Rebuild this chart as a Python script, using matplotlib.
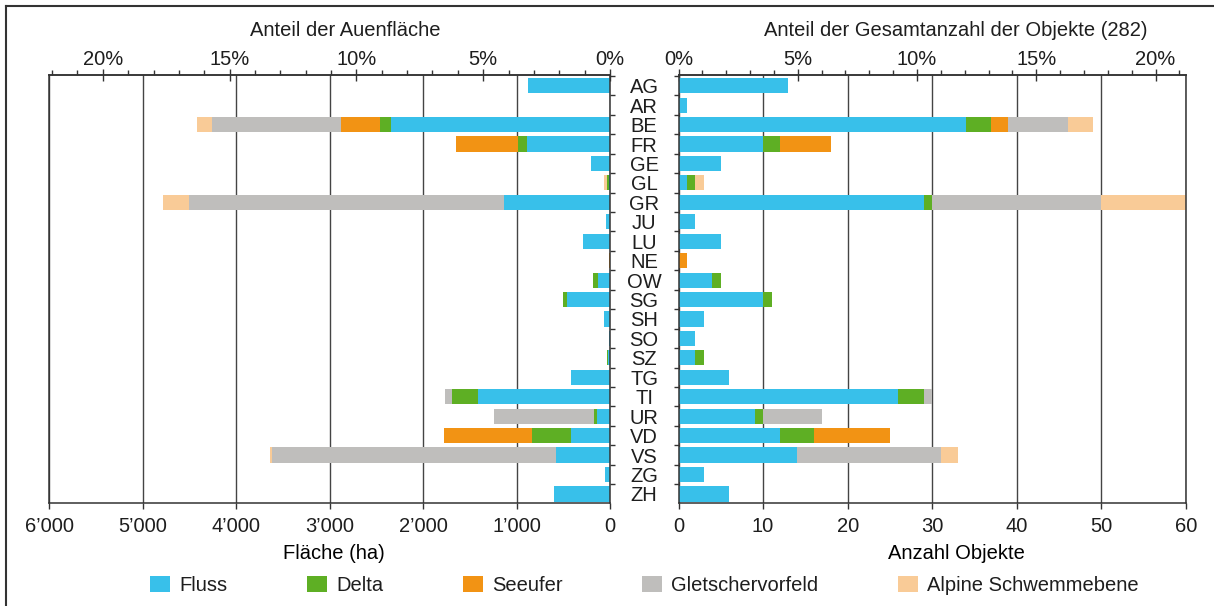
import numpy as np
import matplotlib
matplotlib.use("Agg")
import matplotlib.pyplot as plt
from matplotlib.patches import Patch
from matplotlib.lines import Line2D
from matplotlib.ticker import MultipleLocator, FuncFormatter

plt.rcParams["font.family"] = ["Liberation Sans", "DejaVu Sans"]
plt.rcParams["font.size"] = 14.5
plt.rcParams["text.color"] = "#1e1e1e"
plt.rcParams["xtick.color"] = "#333333"
plt.rcParams["ytick.color"] = "#333333"
plt.rcParams["xtick.labelcolor"] = "#1e1e1e"
plt.rcParams["ytick.labelcolor"] = "#1e1e1e"

# Kantone
cantons = ["AG", "AR", "BE", "FR", "GE", "GL", "GR", "JU", "LU", "NE", "OW",
           "SG", "SH", "SO", "SZ", "TG", "TI", "UR", "VD", "VS", "ZG", "ZH"]

# Fläche (ha) je Auentyp
fluss_ha = [880, 2, 2343, 888, 207, 8, 1129, 43, 285, 0, 132,
            463, 68, 15, 18, 419, 1412, 135, 419, 579, 55, 600]
delta_ha = [0, 0, 118, 97, 0, 25, 8, 0, 0, 0, 53,
            43, 0, 0, 18, 0, 279, 38, 418, 0, 0, 0]
seeufer_ha = [0, 0, 419, 664, 0, 0, 0, 0, 0, 10, 0,
              0, 0, 0, 0, 0, 0, 0, 939, 0, 0, 0]
glet_ha = [0, 0, 1378, 0, 0, 0, 3366, 0, 0, 0, 0,
           0, 0, 0, 0, 0, 76, 1070, 0, 3040, 0, 0]
alpin_ha = [0, 0, 161, 0, 0, 30, 279, 0, 0, 0, 0,
            0, 0, 0, 0, 0, 0, 0, 0, 17, 0, 0]

# Anzahl Objekte je Auentyp
fluss_n = [13, 1, 34, 10, 5, 1, 29, 2, 5, 0, 4,
           10, 3, 2, 2, 6, 26, 9, 12, 14, 3, 6]
delta_n = [0, 0, 3, 2, 0, 1, 1, 0, 0, 0, 1,
           1, 0, 0, 1, 0, 3, 1, 4, 0, 0, 0]
seeufer_n = [0, 0, 2, 6, 0, 0, 0, 0, 0, 1, 0,
             0, 0, 0, 0, 0, 0, 0, 9, 0, 0, 0]
glet_n = [0, 0, 7, 0, 0, 0, 20, 0, 0, 0, 0,
          0, 0, 0, 0, 0, 1, 7, 0, 17, 0, 0]
alpin_n = [0, 0, 3, 0, 0, 1, 10, 0, 0, 0, 0,
           0, 0, 0, 0, 0, 0, 0, 0, 2, 0, 0]

types = ["Fluss", "Delta", "Seeufer", "Gletschervorfeld", "Alpine Schwemmebene"]
colors = ["#38C0EA", "#5EAF24", "#F29314", "#BFBEBC", "#F9CB97"]

AUEN_TOTAL = 27120   # ha, 100 % der Auenfläche
OBJ_TOTAL = 282      # Anzahl Objekte

W, H = 1214, 606
fig = plt.figure(figsize=(W / 100, H / 100), dpi=100)

ax_bottom = 1 - 502.7 / H
ax_height = 427.7 / H
ax_l = fig.add_axes([49 / W, ax_bottom, 561 / W, ax_height])
ax_r = fig.add_axes([678.5 / W, ax_bottom, 507.5 / W, ax_height])

y = np.arange(len(cantons))
bar_h = 0.78
edge = "#333333"


def stacked(ax, series):
    left = np.zeros(len(cantons))
    for vals, c in zip(series, colors):
        vals = np.asarray(vals, dtype=float)
        ax.barh(y, vals, left=left, height=bar_h, color=c, linewidth=0)
        left += vals


stacked(ax_l, [fluss_ha, delta_ha, seeufer_ha, glet_ha, alpin_ha])
stacked(ax_r, [fluss_n, delta_n, seeufer_n, glet_n, alpin_n])

thousands = FuncFormatter(lambda v, p: f"{int(v)//1000}’000" if v >= 1000 else "0")

for ax in (ax_l, ax_r):
    ax.set_ylim(len(cantons) - 0.55, -0.55)
    ax.set_axisbelow(True)
    ax.grid(axis="x", color="#444444", linewidth=1.0)
    for s in ax.spines.values():
        s.set_color(edge)
        s.set_linewidth(1.1)
    ax.tick_params(axis="x", which="major", direction="out", length=4.5,
                   width=1.0, pad=5.5)

# linke Seite: Fläche
ax_l.set_xlim(6000, 0)
ax_l.set_xticks(np.arange(0, 6001, 1000))
ax_l.xaxis.set_major_formatter(thousands)
ax_l.set_xlabel("Fläche (ha)")
ax_l.xaxis.set_label_coords((334 - 49) / 561, -0.097)
ax_l.yaxis.tick_right()
ax_l.set_yticks(np.arange(-0.5, len(cantons) - 0.5, 1))
ax_l.set_yticklabels([])
ax_l.tick_params(axis="y", direction="out", length=3.8, width=1.0)

# rechte Seite: Anzahl
ax_r.set_xlim(0, 60)
ax_r.set_xticks(np.arange(0, 61, 10))
ax_r.set_xlabel("Anzahl Objekte")
ax_r.xaxis.set_label_coords((956 - 678.5) / 507.5, -0.097)
ax_r.set_yticks(y)
ax_r.set_yticklabels(cantons)
ax_r.set_yticks(np.arange(-0.5, len(cantons) - 0.5, 1), minor=True)
ax_r.tick_params(axis="y", which="major", length=0, pad=24.8)
ax_r.tick_params(axis="y", which="minor", direction="out", length=3.8, width=1.0)
for lab in ax_r.get_yticklabels():
    lab.set_ha("center")

# obere Prozentachsen
pct_fmt = FuncFormatter(lambda v, p: f"{int(round(v))}%")
sec_l = ax_l.secondary_xaxis("top", functions=(lambda x: x / AUEN_TOTAL * 100,
                                               lambda p: p * AUEN_TOTAL / 100))
sec_r = ax_r.secondary_xaxis("top", functions=(lambda x: x / OBJ_TOTAL * 100,
                                               lambda p: p * OBJ_TOTAL / 100))
for sec in (sec_l, sec_r):
    sec.set_xticks([0, 5, 10, 15, 20])
    sec.xaxis.set_major_formatter(pct_fmt)
    sec.xaxis.set_minor_locator(MultipleLocator(1))
    sec.tick_params(which="major", direction="inout", length=9, width=1.0, pad=0)
    sec.tick_params(which="minor", direction="out", length=3.6, width=1.0)
    sec.spines["top"].set_color(edge)
    sec.spines["top"].set_linewidth(1.1)

fig.text(345 / W, 1 - 30 / H, "Anteil der Auenfläche", ha="center", va="center")
fig.text(955.5 / W, 1 - 30 / H, "Anteil der Gesamtanzahl der Objekte (282)",
         ha="center", va="center")

# Legende
handles = [Patch(facecolor=c, edgecolor="none") for c in colors]
fig.legend(handles, types, ncol=5, loc="center", frameon=False,
           bbox_to_anchor=(644.5 / W, 1 - 585.5 / H),
           handlelength=1.0, handleheight=0.85, handletextpad=0.45,
           columnspacing=3.95, borderpad=0, borderaxespad=0)

# Rahmen (links und oben)
x0, y0 = 6 / W, 1 - 6 / H
fig.add_artist(Line2D([x0, x0], [0, y0], transform=fig.transFigure,
                      color="#333333", linewidth=1.5))
fig.add_artist(Line2D([x0, 1], [y0, y0], transform=fig.transFigure,
                      color="#333333", linewidth=1.5))

fig.savefig("out.png", dpi=100)
